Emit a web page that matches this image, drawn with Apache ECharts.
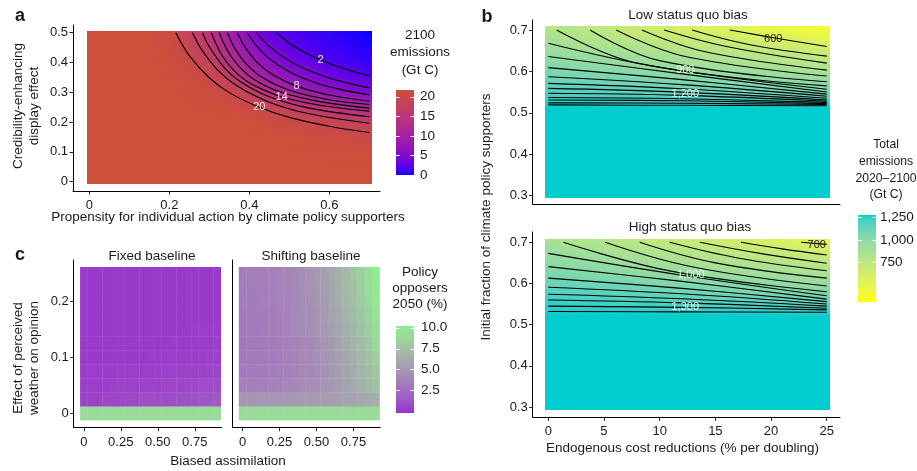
<!DOCTYPE html>
<html>
<head>
<meta charset="utf-8">
<script src="https://cdn.jsdelivr.net/npm/echarts@6/dist/echarts.min.js"></script>
<style>
html,body{margin:0;padding:0;background:#fff;}
#chart{width:917px;height:471px;}
</style>
</head>
<body>
<div id="chart"></div>
<script>
// ================= data =================

// --- a: 2100 emissions (Gt C) ---
const aX = [0, 0.05, 0.1, 0.15, 0.2, 0.25, 0.3, 0.35, 0.4, 0.45, 0.5, 0.55, 0.6, 0.65, 0.7];
const aY = [0, 0.05, 0.1, 0.15, 0.2, 0.25, 0.3, 0.35, 0.4, 0.45, 0.5];
const aEmissions = [
  [21.7,21.7,21.7,21.7,21.7,21.7,21.7,21.7,21.7,21.7,21.7,21.7,21.7,21.7,21.7],
  [21.7,21.7,21.7,21.7,21.7,21.7,21.7,21.7,21.7,21.7,21.7,21.7,21.7,21.7,21.6],
  [21.7,21.7,21.7,21.7,21.7,21.7,21.7,21.7,21.7,21.7,21.7,21.6,21.5,21.4,21.3],
  [21.7,21.7,21.7,21.7,21.7,21.7,21.7,21.7,21.7,21.6,21.5,21.3,21.1,20.8,20.4],
  [21.7,21.7,21.7,21.7,21.7,21.7,21.7,21.7,21.5,21.1,20.6,20.0,19.2,18.5,17.8],
  [21.7,21.7,21.7,21.7,21.7,21.7,21.6,21.3,20.6,19.3,17.5,15.7,14.4,12.9,11.3],
  [21.7,21.7,21.7,21.7,21.7,21.5,21.2,20.0,17.7,13.9,11.0, 8.8, 7.4, 6.3, 5.3],
  [21.7,21.7,21.7,21.7,21.6,21.2,20.0,17.2,12.4, 9.1, 7.0, 5.4, 3.9, 3.1, 2.2],
  [21.7,21.7,21.7,21.7,21.4,20.5,18.2,13.4, 9.5, 6.6, 4.3, 3.1, 1.9, 1.3, 0.8],
  [21.7,21.7,21.7,21.6,21.0,19.3,16.1,11.3, 7.4, 4.3, 2.6, 1.6, 1.0, 0.6, 0.3],
  [21.7,21.7,21.7,21.5,20.6,18.3,14.5, 9.6, 5.6, 2.7, 1.7, 1.2, 0.7, 0.3, 0.0]
];
const aContourLevels = [20, 18, 16, 14, 12, 10, 8, 6, 4, 2];
const aContourLines = [
  [[0.216,0.5],[0.25,0.423],[0.3,0.349],[0.35,0.299],[0.425,0.25],[0.5,0.216],[0.6,0.186],[0.7,0.165]],
  [[0.258,0.5],[0.28,0.445],[0.32,0.376],[0.37,0.321],[0.45,0.267],[0.55,0.228],[0.7,0.196]],
  [[0.283,0.5],[0.3,0.453],[0.34,0.379],[0.38,0.334],[0.45,0.285],[0.55,0.247],[0.7,0.218]],
  [[0.305,0.5],[0.33,0.428],[0.36,0.375],[0.4,0.332],[0.48,0.285],[0.58,0.256],[0.7,0.237]],
  [[0.325,0.5],[0.345,0.441],[0.37,0.393],[0.41,0.345],[0.48,0.3],[0.58,0.268],[0.7,0.247]],
  [[0.345,0.5],[0.365,0.445],[0.39,0.399],[0.43,0.352],[0.5,0.307],[0.6,0.275],[0.7,0.259]],
  [[0.37,0.5],[0.39,0.45],[0.42,0.4],[0.46,0.358],[0.52,0.32],[0.6,0.291],[0.7,0.27]],
  [[0.395,0.5],[0.42,0.453],[0.45,0.413],[0.5,0.369],[0.56,0.335],[0.63,0.309],[0.7,0.292]],
  [[0.418,0.5],[0.45,0.454],[0.49,0.414],[0.54,0.378],[0.6,0.348],[0.65,0.33],[0.7,0.315]],
  [[0.468,0.5],[0.5,0.465],[0.55,0.426],[0.6,0.397],[0.65,0.374],[0.7,0.356]]
];
const aContourLabels = [[0.425,0.25,20],[0.481,0.285,14],[0.518,0.321,8],[0.578,0.41,2]];
const aXTicks = [0, 0.2, 0.4, 0.6];
const aXTickLabels = ['0', '0.2', '0.4', '0.6'];
const aYTicks = [0, 0.1, 0.2, 0.3, 0.4, 0.5];
const aYTickLabels = ['0', '0.1', '0.2', '0.3', '0.4', '0.5'];
const aLegendRange = [0, 21.7];
const aLegendTicks = [0, 5, 10, 15, 20];

// --- b: total emissions 2020-2100 (Gt C) ---
const bX = [0, 5, 10, 15, 20, 25];
const bY = [0.3, 0.51, 0.52, 0.53, 0.54, 0.56, 0.58, 0.6, 0.62, 0.64, 0.66, 0.68, 0.7];
const bLowEmissions = [
  [1276,1276,1276,1276,1276,1276],
  [1276,1276,1276,1276,1276,1276],
  [1262,1258,1254,1250,1246,1240],
  [1240,1230,1220,1210,1200,1190],
  [1220,1205,1190,1170,1150,1130],
  [1170,1150,1120,1100,1070,1040],
  [1120,1090,1060,1020, 990, 950],
  [1070,1030, 990, 950, 910, 860],
  [1020, 975, 930, 880, 830, 780],
  [ 970, 920, 860, 810, 760, 700],
  [ 920, 860, 800, 740, 680, 600],
  [ 870, 800, 730, 660, 580, 500],
  [ 820, 740, 650, 570, 480, 400]
];
const bHighEmissions = [
  [1276,1276,1276,1276,1276,1276],
  [1276,1276,1276,1276,1276,1276],
  [1276,1276,1276,1276,1276,1276],
  [1268,1262,1256,1250,1245,1240],
  [1255,1245,1235,1225,1215,1200],
  [1220,1200,1180,1160,1140,1110],
  [1180,1150,1120,1090,1060,1030],
  [1130,1100,1060,1030, 990, 950],
  [1080,1040,1000, 960, 920, 880],
  [1030, 980, 930, 890, 850, 800],
  [ 980, 930, 870, 820, 770, 720],
  [ 930, 870, 810, 750, 690, 630],
  [ 880, 810, 740, 670, 600, 530]
];
const bLowContours = [
  [[16.3,0.7],[20.5,0.68],[25,0.66]],
  [[12.9,0.7],[18,0.665],[25,0.637]],
  [[10.4,0.7],[16,0.66],[25,0.62]],
  [[8.4,0.7],[14,0.648],[25,0.603]],
  [[6.1,0.7],[12,0.638],[25,0.589]],
  [[3.75,0.7],[10,0.626],[25,0.575]],
  [[0.75,0.7],[8,0.62],[25,0.565]],
  [[0,0.668],[10,0.61],[25,0.557]],
  [[0,0.636],[12,0.594],[25,0.55]],
  [[0,0.609],[12,0.58],[25,0.545]],
  [[0,0.587],[12,0.568],[25,0.54]],
  [[0,0.571],[12,0.558],[25,0.535]],
  [[0,0.559],[12,0.55],[25,0.531]],
  [[0,0.547],[12,0.542],[25,0.528]],
  [[0,0.537],[12,0.534],[25,0.525]],
  [[0,0.531],[12,0.529],[25,0.522]],
  [[0,0.524],[12,0.523],[25,0.52]],
  [[0,0.519],[12,0.518],[25,0.517]]
];
const bHighContours = [
  [[22.7,0.7],[25,0.695]],
  [[17.3,0.7],[21,0.684],[25,0.669]],
  [[13.6,0.7],[19,0.673],[25,0.649]],
  [[10.9,0.7],[17,0.662],[25,0.631]],
  [[8.2,0.7],[15,0.65],[25,0.613]],
  [[5.1,0.7],[13,0.64],[25,0.594]],
  [[1.35,0.7],[11,0.63],[25,0.58]],
  [[0,0.673],[12,0.62],[25,0.57]],
  [[0,0.641],[12,0.605],[25,0.562]],
  [[0,0.613],[12,0.588],[25,0.556]],
  [[0,0.591],[12,0.575],[25,0.55]],
  [[0,0.574],[12,0.563],[25,0.545]],
  [[0,0.56],[12,0.553],[25,0.54]],
  [[0,0.545],[12,0.542],[25,0.536]],
  [[0,0.532],[12,0.531],[25,0.53]]
];
const bLowLabels = [[20.2,0.678,600],[12.3,0.603,900],[12.3,0.545,1200]];
const bHighLabels = [[24.1,0.694,700],[12.8,0.62,1000],[12.3,0.542,1300]];
const bXTicks = [0, 5, 10, 15, 20, 25];
const bYTicks = [0.3, 0.4, 0.5, 0.6, 0.7];
const bLegendRange = [309, 1276];
const bLegendTicks = [750, 1000, 1250];

// --- c: policy opposers in 2050 (%) ---
const cX = [0,0.05,0.1,0.15,0.2,0.25,0.3,0.35,0.4,0.45,0.5,0.55,0.6,0.65,0.7,0.75,0.8,0.85,0.9];
const cY = [0,0.025,0.05,0.075,0.1,0.125,0.15,0.175,0.2,0.225,0.25];
const cFixed = [
  [9.0,9.0,9.0,9.0,9.0,9.0,9.0,9.0,9.0,9.0,9.0,9.0,9.0,9.0,9.0,9.0,9.0,9.0,9.0],
  [0.5,0.5,0.5,0.6,0.6,0.6,0.7,0.7,0.8,0.8,0.9,0.9,1.0,1.0,1.1,1.1,1.2,1.3,1.4],
  [0.3,0.3,0.3,0.3,0.4,0.4,0.4,0.4,0.5,0.5,0.5,0.6,0.6,0.6,0.7,0.7,0.8,0.8,0.9],
  [0.2,0.2,0.2,0.2,0.2,0.3,0.3,0.3,0.3,0.3,0.4,0.4,0.4,0.4,0.5,0.5,0.5,0.6,0.6],
  [0.1,0.1,0.1,0.1,0.1,0.1,0.1,0.1,0.1,0.2,0.2,0.2,0.2,0.3,0.3,0.3,0.3,0.4,0.4],
  [0.1,0.1,0.1,0.1,0.1,0.1,0.1,0.1,0.1,0.1,0.1,0.1,0.2,0.2,0.2,0.2,0.2,0.3,0.3],
  [0.1,0.1,0.1,0.1,0.1,0.1,0.1,0.1,0.1,0.1,0.1,0.1,0.1,0.1,0.1,0.2,0.2,0.2,0.2],
  [0.1,0.1,0.1,0.1,0.1,0.1,0.1,0.1,0.1,0.1,0.1,0.1,0.1,0.1,0.1,0.1,0.1,0.1,0.1],
  [0.1,0.1,0.1,0.1,0.1,0.1,0.1,0.1,0.1,0.1,0.1,0.1,0.1,0.1,0.1,0.1,0.1,0.1,0.1],
  [0.1,0.1,0.1,0.1,0.1,0.1,0.1,0.1,0.1,0.1,0.1,0.1,0.1,0.1,0.1,0.1,0.1,0.1,0.1],
  [0.1,0.1,0.1,0.1,0.1,0.1,0.1,0.1,0.1,0.1,0.1,0.1,0.1,0.1,0.1,0.1,0.1,0.1,0.1]
];
const cShifting = [
  [9.0,9.0,9.0,9.0,9.0,9.0,9.0,9.0,9.0,9.0,9.0,9.0,9.0,9.0,9.0,9.0,9.0,9.0,9.0],
  [4.7,4.7,4.8,4.8,4.8,4.9,4.9,5.0,5.0,5.1,5.2,5.3,5.4,5.5,5.6,5.8,5.9,6.1,6.3],
  [3.5,3.5,3.6,3.6,3.7,3.8,3.9,4.0,4.2,4.3,4.5,4.7,5.0,5.3,5.6,6.0,6.4,6.8,7.3],
  [3.2,3.2,3.3,3.3,3.4,3.5,3.6,3.8,3.9,4.1,4.3,4.6,4.9,5.3,5.7,6.1,6.6,7.2,7.8],
  [3.1,3.1,3.2,3.2,3.3,3.4,3.6,3.7,3.9,4.1,4.4,4.7,5.0,5.4,5.8,6.3,6.9,7.6,8.3],
  [3.1,3.1,3.1,3.2,3.3,3.5,3.6,3.8,4.0,4.2,4.5,4.8,5.2,5.6,6.0,6.6,7.2,7.9,8.7],
  [3.1,3.1,3.2,3.3,3.4,3.5,3.7,3.9,4.1,4.3,4.6,5.0,5.4,5.8,6.3,6.9,7.5,8.2,9.1],
  [3.2,3.2,3.3,3.3,3.4,3.6,3.7,3.9,4.1,4.4,4.7,5.1,5.5,6.0,6.5,7.1,7.7,8.5,9.4],
  [3.3,3.3,3.3,3.4,3.5,3.6,3.8,4.0,4.2,4.5,4.8,5.2,5.7,6.2,6.7,7.3,8.0,8.8,9.7],
  [3.4,3.3,3.4,3.4,3.5,3.7,3.8,4.0,4.3,4.6,4.9,5.3,5.8,6.3,6.9,7.5,8.2,9.0,9.9],
  [3.4,3.4,3.5,3.5,3.6,3.7,3.9,4.1,4.3,4.6,5.0,5.4,5.9,6.4,7.0,7.7,8.4,9.2,10.1]
];
const cXTicks = [0, 0.25, 0.5, 0.75];
const cXTickLabels = ['0', '0.25', '0.50', '0.75'];
const cYTicks = [0, 0.1, 0.2];
const cYTickLabels = ['0', '0.1', '0.2'];
const cLegendRange = [-0.2, 10.2];
const cLegendTicks = [2.5, 5, 7.5, 10];
const cLegendTickLabels = ['2.5', '5.0', '7.5', '10.0'];

// ================= colour scales (CIELAB interpolation) =================
function hexToRgb(h) { h = h.replace('#', ''); return [0, 2, 4].map(i => parseInt(h.substr(i, 2), 16)); }
function toLin(c) { c /= 255; return c <= 0.04045 ? c / 12.92 : Math.pow((c + 0.055) / 1.055, 2.4); }
function fromLin(c) { c = c <= 0.0031308 ? 12.92 * c : 1.055 * Math.pow(c, 1 / 2.4) - 0.055; return Math.round(Math.max(0, Math.min(1, c)) * 255); }
function rgbToLab(rgb) {
  const [r, g, b] = rgb.map(toLin);
  const X = (0.4124 * r + 0.3576 * g + 0.1805 * b) / 0.95047;
  const Y = (0.2126 * r + 0.7152 * g + 0.0722 * b);
  const Z = (0.0193 * r + 0.1192 * g + 0.9505 * b) / 1.08883;
  const f = t => t > 0.008856 ? Math.cbrt(t) : 7.787 * t + 16 / 116;
  const fx = f(X), fy = f(Y), fz = f(Z);
  return [116 * fy - 16, 500 * (fx - fy), 200 * (fy - fz)];
}
function labToRgb(lab) {
  const fy = (lab[0] + 16) / 116, fx = fy + lab[1] / 500, fz = fy - lab[2] / 200;
  const inv = t => t > 0.206893 ? t * t * t : (t - 16 / 116) / 7.787;
  const X = inv(fx) * 0.95047, Y = inv(fy), Z = inv(fz) * 1.08883;
  const r = 3.2406 * X - 1.5372 * Y - 0.4986 * Z;
  const g = -0.9689 * X + 1.8758 * Y + 0.0415 * Z;
  const b = 0.0557 * X - 0.2040 * Y + 1.0570 * Z;
  return [fromLin(r), fromLin(g), fromLin(b)];
}
function labScale(lowHex, highHex, range) {
  const lo = rgbToLab(hexToRgb(lowHex)), hi = rgbToLab(hexToRgb(highHex));
  const N = 256, lut = [];
  for (let i = 0; i < N; i++) {
    const t = i / (N - 1);
    const c = labToRgb([0, 1, 2].map(k => lo[k] + (hi[k] - lo[k]) * t));
    lut.push('rgb(' + c.join(',') + ')');
  }
  return v => {
    let t = (v - range[0]) / (range[1] - range[0]);
    t = Math.max(0, Math.min(1, t));
    return lut[Math.round(t * (N - 1))];
  };
}
const aScale = labScale('#0000FF', '#CD4F39', aLegendRange);
const bScale = labScale('#FFFF00', '#00CDCD', bLegendRange);
const cScale = labScale('#9932CC', '#90EE90', cLegendRange);

// ================= helpers =================
const FONT = '"Liberation Sans", Arial, Helvetica, sans-serif';
const TXT = '#1a1a1a';

function pickLabel(ticks, labels) {
  return v => {
    const i = ticks.findIndex(t => Math.abs(t - v) < 1e-9);
    return i < 0 ? '' : (labels ? labels[i] : String(ticks[i]));
  };
}
function fmtThousands(v) { return Math.round(v).toLocaleString('en-US'); }

function axis(gridIndex, min, max, ticks, labels, labelMargin) {
  const hasTicks = !!ticks;
  return {
    type: 'value', gridIndex, min, max,
    axisLine: { show: true, onZero: false, lineStyle: { color: '#000', width: 1 } },
    axisTick: hasTicks ? { show: true, length: 3.5, customValues: ticks, lineStyle: { color: '#222', width: 1 } } : { show: false },
    axisLabel: hasTicks ? { show: true, customValues: ticks, formatter: pickLabel(ticks, labels),
      color: TXT, fontSize: 13, fontFamily: FONT, margin: labelMargin || 5, hideOverlap: false } : { show: false },
    splitLine: { show: false }
  };
}

// Smoothly shaded raster: cells between neighbouring grid samples, shaded bilinearly.
function fieldSeries(gi, xs, ys, grid, xlim, ylim, scale) {
  const ex = [xlim[0]].concat(xs, [xlim[1]]);
  const ey = [ylim[0]].concat(ys, [ylim[1]]);
  const val = (i, j) => grid[Math.min(Math.max(j - 1, 0), ys.length - 1)][Math.min(Math.max(i - 1, 0), xs.length - 1)];
  const cells = [];
  for (let j = 0; j < ey.length - 1; j++) {
    for (let i = 0; i < ex.length - 1; i++) {
      if (ex[i + 1] <= ex[i] || ey[j + 1] <= ey[j]) continue;
      cells.push([ex[i], ey[j], ex[i + 1], ey[j + 1], val(i, j), val(i + 1, j), val(i, j + 1), val(i + 1, j + 1)]);
    }
  }
  return {
    type: 'custom', xAxisIndex: gi, yAxisIndex: gi, silent: true, z: 1,
    data: cells, encode: { x: [0, 2], y: [1, 3] },
    renderItem(params, api) {
      const c = cells[params.dataIndex];
      const p0 = api.coord([c[0], c[1]]), p1 = api.coord([c[2], c[3]]);
      const left = p0[0], w = p1[0] - p0[0];
      const top = Math.floor(p1[1]), bottom = Math.ceil(p0[1]);
      const K = Math.max(1, Math.round(w / 2));
      const children = [];
      for (let k = 0; k < K; k++) {
        const t = (k + 0.5) / K;
        const vb = c[4] + (c[5] - c[4]) * t;
        const vt = c[6] + (c[7] - c[6]) * t;
        const xa = Math.floor(left + w * k / K), xb = Math.ceil(left + w * (k + 1) / K);
        children.push({
          type: 'rect',
          shape: { x: xa, y: top, width: xb - xa, height: bottom - top },
          style: { fill: new echarts.graphic.LinearGradient(0, 0, 0, 1, [
            { offset: 0, color: scale(vt) }, { offset: 1, color: scale(vb) }]) }
        });
      }
      return { type: 'group', children };
    }
  };
}

// Plain tiles (one flat colour per grid cell)
function tileSeries(gi, xs, ys, grid, scale) {
  const dx = xs[1] - xs[0], dy = ys[1] - ys[0];
  const data = [];
  ys.forEach((y, j) => xs.forEach((x, i) => data.push([x, y, grid[j][i]])));
  return {
    type: 'custom', xAxisIndex: gi, yAxisIndex: gi, silent: true, z: 1, data,
    encode: { x: 0, y: 1 },
    renderItem(params, api) {
      const x = api.value(0), y = api.value(1), v = api.value(2);
      const p0 = api.coord([x - dx / 2, y - dy / 2]), p1 = api.coord([x + dx / 2, y + dy / 2]);
      return { type: 'rect', shape: { x: p0[0], y: p1[1], width: p1[0] - p0[0] + 0.4, height: p0[1] - p1[1] + 0.4 },
        style: { fill: scale(v) } };
    }
  };
}

function contourSeries(gi, lines, smooth) {
  return lines.map(pts => ({
    type: 'line', xAxisIndex: gi, yAxisIndex: gi, data: pts, showSymbol: false, symbol: 'none',
    smooth: smooth, silent: true, z: 3,
    lineStyle: { color: '#000', width: 1.1 }
  }));
}

function contourLabelSeries(gi, labels, colorFor) {
  return {
    type: 'custom', xAxisIndex: gi, yAxisIndex: gi, silent: true, z: 4,
    data: labels, encode: { x: 0, y: 1 },
    renderItem(params, api) {
      const p = api.coord([api.value(0), api.value(1)]);
      const lvl = api.value(2);
      return { type: 'text', x: p[0], y: p[1],
        style: { text: fmtThousands(lvl), fill: colorFor(lvl), font: '11px ' + FONT,
          align: 'center', verticalAlign: 'middle', textAlign: 'center', textVerticalAlign: 'middle' } };
    }
  };
}

// Colour bar legend drawn on its own small axis
function colorbarSeries(gi, range, ticks, scale) {
  const data = [[range[0], range[1]]].concat(ticks.map(t => [t, t]));
  return {
    type: 'custom', xAxisIndex: gi, yAxisIndex: gi, silent: true, z: 2, data,
    encode: { y: [0, 1] },
    renderItem(params, api) {
      const a = api.value(0), b = api.value(1);
      const pl = api.coord([0, a]), pr = api.coord([1, a]);
      const w = pr[0] - pl[0];
      if (params.dataIndex === 0) {
        const yTop = api.coord([0, b])[1], yBot = pl[1];
        const children = [];
        for (let y = Math.floor(yTop); y < Math.ceil(yBot); y++) {
          const v = b - (b - a) * (y + 0.5 - yTop) / (yBot - yTop);
          children.push({ type: 'rect', shape: { x: pl[0], y, width: w, height: 1 }, style: { fill: scale(v) } });
        }
        return { type: 'group', children };
      }
      const y = Math.round(pl[1]) + 0.5;
      return { type: 'group', children: [
        { type: 'line', shape: { x1: pl[0], y1: y, x2: pl[0] + w / 5, y2: y }, style: { stroke: '#fff', lineWidth: 1 } },
        { type: 'line', shape: { x1: pr[0] - w / 5, y1: y, x2: pr[0], y2: y }, style: { stroke: '#fff', lineWidth: 1 } }
      ] };
    }
  };
}

function text(x, y, str, o) {
  o = o || {};
  const font = (o.weight || 'normal') + ' ' + (o.size || 13.5) + 'px ' + FONT;
  return { type: 'text', x, y, rotation: o.rot || 0, silent: true, z: 20,
    style: { text: str, fill: o.color || TXT, font, align: 'center', verticalAlign: 'middle',
      textAlign: 'center', textVerticalAlign: 'middle', lineHeight: o.lh || 16 } };
}

// ================= layout =================
const grids = [
  { left: 73, top: 25, width: 307, height: 166 },        // a
  { left: 532.7, top: 20, width: 307.3, height: 184 },   // b, low status quo bias
  { left: 532.7, top: 232, width: 307.3, height: 185.3 },// b, high status quo bias
  { left: 73.7, top: 260, width: 148, height: 167.7 },   // c, fixed baseline
  { left: 232.3, top: 260, width: 148, height: 167.7 },  // c, shifting baseline
  { left: 396, top: 90, width: 18, height: 85 },         // legend a
  { left: 858, top: 215, width: 18, height: 87 },        // legend b
  { left: 396, top: 326, width: 18, height: 86.7 }       // legend c
].map(g => Object.assign({ containLabel: false, outerBoundsMode: 'none' }, g));

const hidden = gi => ({ type: 'value', gridIndex: gi, min: 0, max: 1, show: false,
  axisLine: { show: false }, axisTick: { show: false }, axisLabel: { show: false }, splitLine: { show: false } });

const legendAxis = (gi, range, ticks, labels, margin) => ({
  type: 'value', gridIndex: gi, min: range[0], max: range[1], position: 'right',
  axisLine: { show: false }, axisTick: { show: false }, splitLine: { show: false },
  axisLabel: { show: true, customValues: ticks, formatter: pickLabel(ticks, labels), color: TXT,
    fontSize: 13.5, fontFamily: FONT, margin }
});

const xAxis = [
  axis(0, -0.0408, 0.7267, aXTicks, aXTickLabels, 8),
  axis(1, -1.40, 26.19, null),
  axis(2, -1.40, 26.19, bXTicks, bXTicks.map(String), 8),
  axis(3, -0.068, 0.932, cXTicks, cXTickLabels, 8),
  axis(4, -0.069, 0.931, cXTicks, cXTickLabels, 8),
  hidden(5), hidden(6), hidden(7)
];
const yAxis = [
  axis(0, -0.0312, 0.526, aYTicks, aYTickLabels),
  axis(1, 0.2795, 0.7242, bYTicks, bYTicks.map(String)),
  axis(2, 0.275, 0.725, bYTicks, bYTicks.map(String)),
  axis(3, -0.0264, 0.275, cYTicks, cYTickLabels),
  axis(4, -0.0264, 0.275, null),
  legendAxis(5, aLegendRange, aLegendTicks, aLegendTicks.map(String), 6),
  legendAxis(6, bLegendRange, bLegendTicks, bLegendTicks.map(fmtThousands), 4),
  legendAxis(7, cLegendRange, cLegendTicks, cLegendTickLabels, 7)
];

const series = [].concat(
  fieldSeries(0, aX, aY, aEmissions, [-0.005, 0.705], [-0.005, 0.505], aScale),
  contourSeries(0, aContourLines, 0.35),
  contourLabelSeries(0, aContourLabels, () => '#f4e4f4'),
  fieldSeries(1, bX, bY, bLowEmissions, [-0.25, 25.25], [0.295, 0.708], bScale),
  contourSeries(1, bLowContours, 0.4),
  contourLabelSeries(1, bLowLabels, v => v < 700 ? '#222' : '#f2f2f2'),
  fieldSeries(2, bX, bY, bHighEmissions, [-0.25, 25.25], [0.295, 0.707], bScale),
  contourSeries(2, bHighContours, 0.4),
  contourLabelSeries(2, bHighLabels, v => v < 800 ? '#222' : '#f2f2f2'),
  tileSeries(3, cX, cY, cFixed, cScale),
  tileSeries(4, cX, cY, cShifting, cScale),
  colorbarSeries(5, aLegendRange, aLegendTicks, aScale),
  colorbarSeries(6, bLegendRange, bLegendTicks, bScale),
  colorbarSeries(7, cLegendRange, cLegendTicks, cScale)
);

const graphic = [
  text(20, 16, 'a', { weight: 'bold', size: 18 }),
  text(487, 17, 'b', { weight: 'bold', size: 18 }),
  text(20, 255, 'c', { weight: 'bold', size: 18 }),
  text(688, 15, 'Low status quo bias'),
  text(690, 227, 'High status quo bias'),
  text(152, 256, 'Fixed baseline'),
  text(311, 256, 'Shifting baseline'),
  text(420, 52.5, '2100\nemissions\n(Gt C)', { lh: 17.5 }),
  text(886, 170, 'Total\nemissions\n2020\u20132100\n(Gt C)', { lh: 16.7, size: 12.2 }),
  text(420, 288, 'Policy\nopposers\n2050 (%)', { lh: 16 }),
  text(228, 217, 'Propensity for individual action by climate policy supporters'),
  text(26, 106, 'Credibility-enhancing\ndisplay effect', { rot: Math.PI / 2, lh: 16 }),
  text(486, 217, 'Initial fraction of climate policy supporters', { rot: Math.PI / 2 }),
  text(682.5, 448.3, 'Endogenous cost reductions (% per doubling)'),
  text(26.3, 358, 'Effect of perceived\nweather on opinion', { rot: Math.PI / 2, lh: 16 }),
  text(228, 461.7, 'Biased assimilation')
];

const chart = echarts.init(document.getElementById('chart'), null, { renderer: 'canvas' });
chart.setOption({
  animation: false,
  backgroundColor: '#fff',
  grid: grids,
  xAxis, yAxis, series, graphic
});
</script>
</body>
</html>
